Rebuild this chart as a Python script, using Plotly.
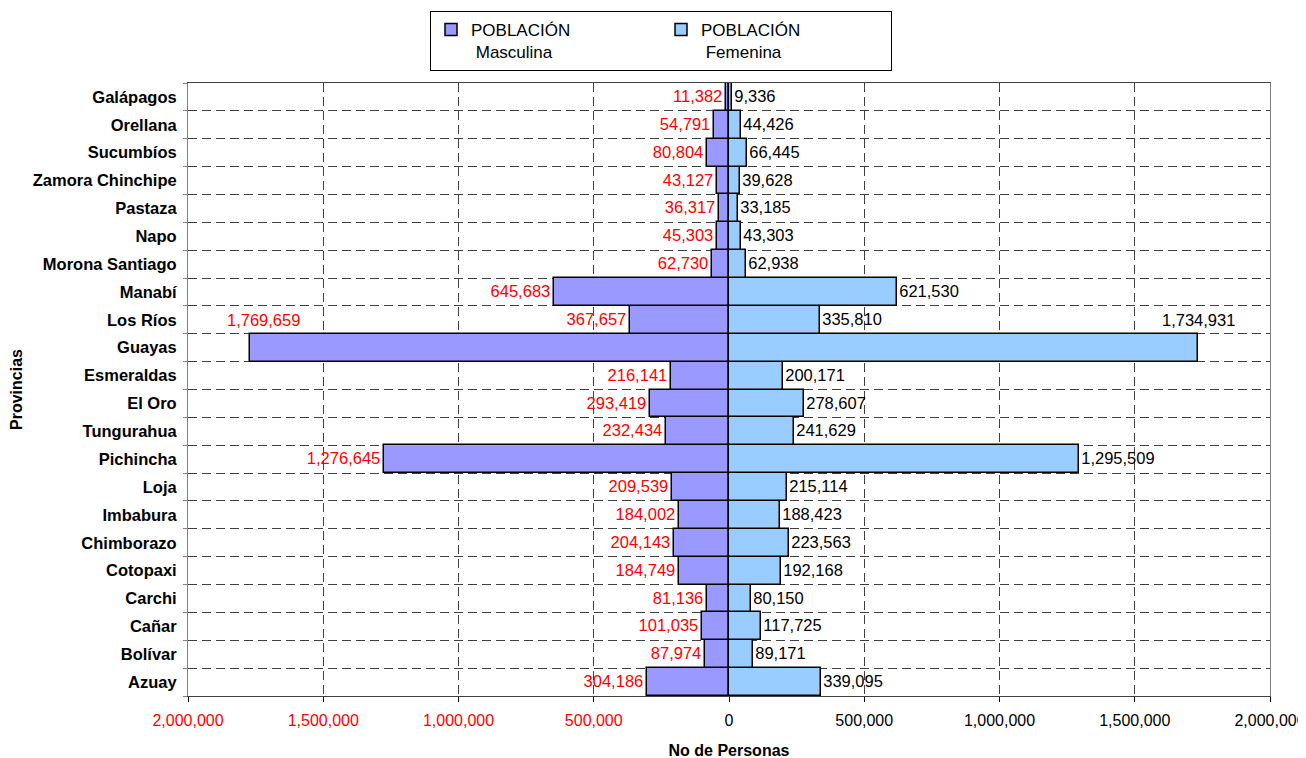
import plotly.graph_objects as go

# Provincias de abajo hacia arriba (orden del eje)
provincias = ['Azuay', 'Bolívar', 'Cañar', 'Carchi', 'Cotopaxi', 'Chimborazo',
              'Imbabura', 'Loja', 'Pichincha', 'Tungurahua', 'El Oro', 'Esmeraldas',
              'Guayas', 'Los Ríos', 'Manabí', 'Morona Santiago', 'Napo', 'Pastaza',
              'Zamora Chinchipe', 'Sucumbíos', 'Orellana', 'Galápagos']

masculina = [304186, 87974, 101035, 81136, 184749, 204143,
             184002, 209539, 1276645, 232434, 293419, 216141,
             1769659, 367657, 645683, 62730, 45303, 36317,
             43127, 80804, 54791, 11382]

femenina = [339095, 89171, 117725, 80150, 192168, 223563,
            188423, 215114, 1295509, 241629, 278607, 200171,
            1734931, 335810, 621530, 62938, 43303, 33185,
            39628, 66445, 44426, 9336]

ticks_x = [-2000000, -1500000, -1000000, -500000, 0, 500000, 1000000, 1500000, 2000000]

FONT = 'Liberation Sans, Arial, sans-serif'
W, H = 1306, 758  # la página añade 8 px de margen arriba/izquierda

# La etiqueta de Guayas aparece desplazada a la fila de Los Ríos en el original
fila_guayas = provincias.index('Guayas')
fila_etiqueta = provincias.index('Los Ríos')

texto_m = [f'{v:,}' if i != fila_guayas else '' for i, v in enumerate(masculina)]
texto_f = [f'{v:,}' if i != fila_guayas else '' for i, v in enumerate(femenina)]

fig = go.Figure()

fig.add_trace(go.Bar(
    y=provincias,
    x=[-v for v in masculina],
    orientation='h',
    name='POBLACIÓN<br> Masculina',
    marker=dict(color='#9999FF', line=dict(color='black', width=1.5)),
    text=texto_m,
    textposition='outside',
    textfont=dict(color='#FF0000', size=16.5, family=FONT),
    constraintext='none',
    cliponaxis=False,
))

fig.add_trace(go.Bar(
    y=provincias,
    x=femenina,
    orientation='h',
    name='POBLACIÓN<br> Femenina',
    marker=dict(color='#99CCFF', line=dict(color='black', width=1.5)),
    text=texto_f,
    textposition='outside',
    textfont=dict(color='black', size=16.5, family=FONT),
    constraintext='none',
    cliponaxis=False,
))

fig.add_annotation(
    x=-masculina[fila_guayas], y=provincias[fila_etiqueta],
    text=f'{masculina[fila_guayas]:,}', showarrow=False, xshift=13,
    font=dict(color='#FF0000', size=16.5, family=FONT),
)
fig.add_annotation(
    x=femenina[fila_guayas], y=provincias[fila_etiqueta],
    text=f'{femenina[fila_guayas]:,}', showarrow=False,
    font=dict(color='black', size=16.5, family=FONT),
)

ticktext = [f'<span style="color:#FF0000">{abs(v):,}</span>' if v < 0 else f'{v:,}'
            for v in ticks_x]

fig.update_layout(
    width=W, height=H,
    margin=dict(l=180, r=44, t=75, b=70, autoexpand=False),
    paper_bgcolor='white', plot_bgcolor='white',
    font=dict(family=FONT, color='black'),
    barmode='relative',
    bargap=0,
    showlegend=True,
    legend=dict(
        orientation='h',
        xref='container', yref='container',
        x=653 / W, xanchor='center',
        y=1 - 3 / H, yanchor='top',
        bordercolor='black', borderwidth=1,
        bgcolor='white',
        font=dict(size=17, family=FONT),
        valign='top',
        entrywidth=185,
        traceorder='normal',
    ),
    xaxis=dict(
        range=[-2000000, 2000000],
        automargin=False,
        tickvals=ticks_x,
        ticktext=ticktext,
        tickfont=dict(size=16, family=FONT, color='black'),
        ticklabeloverflow='allow',
        ticklabelstandoff=5,
        ticks='outside', ticklen=5, tickcolor='black',
        showgrid=True, gridcolor='#404040', griddash='9px,5px', gridwidth=1,
        zeroline=False,
        showline=True, linecolor='#404040', linewidth=1, mirror=True,
        title=dict(text='<b>No de Personas</b>', font=dict(size=16, family=FONT),
                   standoff=16),
    ),
    yaxis=dict(
        type='category',
        automargin=False,
        tickson='boundaries',
        tickfont=dict(size=16.5, family=FONT, weight='bold'),
        ticklabelstandoff=7,
        ticks='outside', ticklen=4, tickcolor='#808080',
        showgrid=True, gridcolor='#404040', griddash='9px,5px', gridwidth=1,
        showline=True, linecolor='#808080', linewidth=1, mirror=True,
        title=dict(text='<b>Provincias</b>', font=dict(size=16, family=FONT),
                   standoff=8),
    ),
)

fig.write_html('out.html')
